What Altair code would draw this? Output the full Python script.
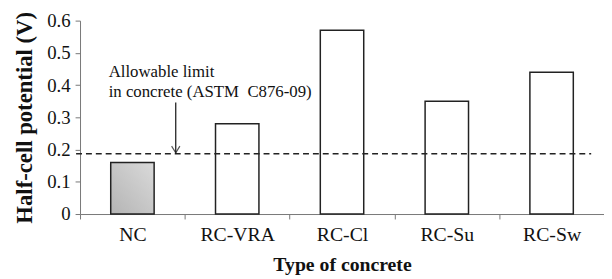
import altair as alt
import pandas as pd

categories = ["NC", "RC-VRA", "RC-Cl", "RC-Su", "RC-Sw"]
values = [0.16, 0.28, 0.57, 0.35, 0.44]
limit_value = 0.187
note_lines = ["Allowable limit", "in concrete (ASTM\u00a0 C876-09)"]
note_y = [0.425, 0.362]
arrow_top = 0.346
arrow_tip = 0.19
y_ticks = [0, 0.1, 0.2, 0.3, 0.4, 0.5, 0.6]

FONT = "Liberation Serif"

df = pd.DataFrame({"type": categories, "v": values})

yscale = alt.Scale(domain=[0, 0.6], nice=False)
yaxis = alt.Axis(title="Half-cell potential (V)", values=y_ticks, tickCount=7,
                 format=".1~f", grid=False, labelOverlap=False)


def ychan(field="v"):
    return alt.Y(f"{field}:Q", scale=yscale, axis=yaxis)


xenc = alt.X("type:N", sort=categories,
             scale=alt.Scale(paddingInner=0, paddingOuter=0),
             axis=alt.Axis(title="Type of concrete", labelAngle=0, tickBand="extent"))

base = alt.Chart(df)

bars_white = base.transform_filter(alt.datum.type != "NC").mark_bar(
    width=44, fill="white", stroke="#222", strokeWidth=1.5
).encode(x=xenc, y=ychan())

bars_nc = base.transform_filter(alt.datum.type == "NC").mark_bar(
    width=44, stroke="#222", strokeWidth=1.5,
    fill=alt.Gradient(gradient="linear", x1=0, y1=1, x2=1, y2=0,
                      stops=[alt.GradientStop(color="#b4b4b4", offset=0),
                             alt.GradientStop(color="#dadada", offset=1)])
).encode(x=xenc, y=ychan())

limit = alt.Chart(pd.DataFrame({"v": [limit_value]})).mark_rule(
    color="#222", strokeWidth=1.3, strokeDash=[6, 4]
).encode(y=ychan(), x=alt.value(-4), x2=alt.value(518))

notes = alt.Chart(pd.DataFrame({"t": note_lines, "v": note_y})).mark_text(
    align="left", baseline="alphabetic", font=FONT, fontSize=17, color="#111"
).encode(text="t:N", y=ychan(), x=alt.value(29))

arrow_line = alt.Chart(pd.DataFrame({"v": [arrow_top], "v2": [arrow_tip]})).mark_rule(
    color="#111", strokeWidth=1.2
).encode(y=ychan(), y2="v2:Q", x=alt.value(97))

arrow_head = alt.Chart(pd.DataFrame({"v": [arrow_tip]})).mark_point(
    shape="M-1,-1.6L0,0L1,-1.6", filled=False, stroke="#111", strokeWidth=1.2, size=70
).encode(y=ychan(), x=alt.value(97))

chart = alt.layer(bars_nc, bars_white, limit, notes, arrow_line, arrow_head).properties(
    width=531, height=196,
    autosize=alt.AutoSizeParams(type="none"),
    padding={"left": 73, "top": 11, "right": 0, "bottom": 60},
    background="white"
).configure_view(stroke=None).configure_axis(
    labelFont=FONT, labelColor="#111",
    titleFont=FONT, titleFontWeight="bold", titleColor="#111",
    tickSize=5, domainColor="#777", tickColor="#777"
).configure_axisX(
    labelFontSize=20, titleFontSize=20, labelPadding=6, titlePadding=10
).configure_axisY(
    labelFontSize=19, titleFontSize=23, labelPadding=5, titlePadding=10
)

chart.save("out.html", embed_options={"renderer": "svg", "actions": False})
